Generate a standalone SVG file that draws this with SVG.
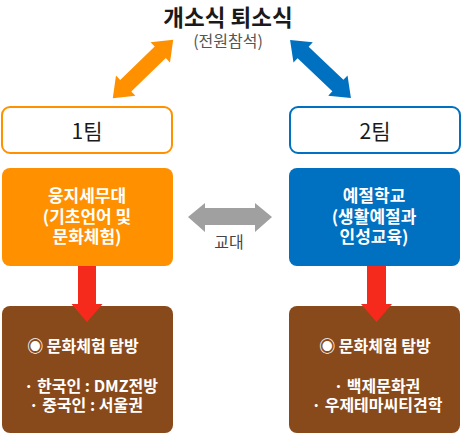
<svg xmlns="http://www.w3.org/2000/svg" width="462" height="434" viewBox="0 0 462 434">
<style>
text{font-family:"Noto Sans CJK KR","Noto Sans",sans-serif;text-anchor:middle}
.title{font-size:22.5px;font-weight:bold;fill:#1a1a1a}
.sub{font-size:16px;fill:#555}
.team{font-size:21px;fill:#1a1a1a}
.w{font-size:17px;font-weight:bold;fill:#fff}
.b{font-size:16px;font-weight:bold;fill:#fff}
.g{font-size:16px;fill:#444}
</style>
<rect width="462" height="434" fill="#fff"/>
<g id="title">
<text class="title" x="228" y="26">개소식 퇴소식</text>
<text class="sub" x="228" y="47">(전원참석)</text>
</g>
<g id="connectors">
<polygon fill="#ff9100" transform="translate(143,69) rotate(-44)" points="-42,0 -24,-14 -24,-8 24,-8 24,-14 42,0 24,14 24,8 -24,8 -24,14"/>
<polygon fill="#0070c0" transform="translate(320.5,69) rotate(43.6)" points="-42,0 -24,-14 -24,-8 24,-8 24,-14 42,0 24,14 24,8 -24,8 -24,14"/>
<polygon fill="#a0a0a0" points="188,217 205,203 205,208 255,208 255,203 272,217 255,232 255,225 205,225 205,232"/>
<text class="g" x="229" y="248">교대</text>
</g>
<g id="team1">
<rect x="2" y="107" width="170" height="46" rx="8" fill="#fff" stroke="#ff9100" stroke-width="2"/>
<text class="team" x="87" y="139">1팀</text>
</g>
<g id="team2">
<rect x="290" y="107" width="170" height="46" rx="8" fill="#fff" stroke="#0070c0" stroke-width="2"/>
<text class="team" x="375" y="139">2팀</text>
</g>
<g id="box1">
<rect x="2" y="168" width="171" height="98" rx="8" fill="#ff9100"/>
<text class="w"><tspan x="87" y="202">웅지세무대</tspan><tspan x="87" y="223">(기초언어 및</tspan><tspan x="87" y="243">문화체험)</tspan></text>
</g>
<g id="box2">
<rect x="289" y="168" width="171" height="98" rx="8" fill="#0070c0"/>
<text class="w"><tspan x="374" y="202">예절학교</tspan><tspan x="374" y="223">(생활예절과</tspan><tspan x="374" y="243">인성교육)</tspan></text>
</g>
<g id="box3">
<rect x="2" y="306" width="171" height="127" rx="8" fill="#894a1b"/>
<text class="b" x="83" y="352">◉ 문화체험 탐방</text>
<text class="b"><tspan x="91" y="392">· 한국인 : DMZ전방</tspan><tspan x="86" y="411">· 중국인 : 서울권</tspan></text>
</g>
<g id="box4">
<rect x="289" y="306" width="171" height="127" rx="8" fill="#894a1b"/>
<text class="b" x="375" y="352">◉ 문화체험 탐방</text>
<text class="b"><tspan x="377" y="392">· 백제문화권</tspan><tspan x="377" y="411">· 우제테마씨티견학</tspan></text>
</g>
<g id="red-arrows">
<polygon fill="#f52a1c" points="78,266 96,266 96,304 102.5,304 87,322 71.5,304 78,304"/>
<polygon fill="#f52a1c" points="367,266 386,266 386,304 392,304 376.5,322 361,304 367,304"/>
</g>
</svg>
